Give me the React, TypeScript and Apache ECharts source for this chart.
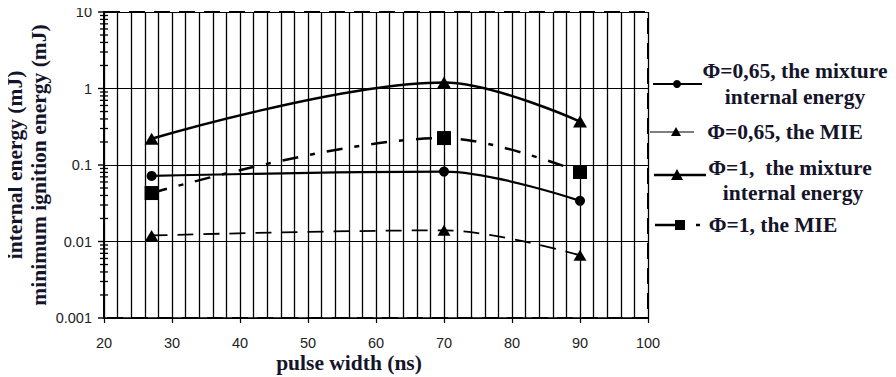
import React, { useEffect, useRef } from "react";
import * as echarts from "echarts";

const pulseWidths = [27, 70, 90];
const mixture065 = [0.072, 0.082, 0.034];
const mie065 = [0.012, 0.014, 0.0066];
const mixture1 = [0.22, 1.2, 0.37];
const mie1 = [0.043, 0.225, 0.081];
const yTickValues = [0.001, 0.01, 0.1, 1, 10];
const yTickLabels = ["0.001", "0.01", "0.1", "1", "10"];
const minorMultipliers = [2, 3, 4, 5, 6, 7, 8, 9];
const decades = [0.001, 0.01, 0.1, 1];

const SERIF = "'Liberation Serif', 'Times New Roman', serif";
const SANS = "'Liberation Sans', Arial, sans-serif";
const TEXT_COLOR = "#14142a";
const FS = 21.5;
const GRID_LEFT = 104;

export default function App() {
  const ref = useRef<HTMLDivElement>(null);
  useEffect(() => {
    if (!ref.current) return;
    const chart = echarts.init(ref.current, undefined, { renderer: "svg" });
    const pts = (ys: number[]) => pulseWidths.map((x, i) => [x, ys[i]]);

    const legendText = (id: string, x: number, y: number, text: string) => ({
      id,
      type: "text",
      x,
      y,
      style: {
        text,
        fill: TEXT_COLOR,
        font: `bold ${FS}px ${SERIF}`,
        textAlign: "center",
        textVerticalAlign: "middle",
      },
    });

    const baseGraphic: any[] = [
      {
        id: "xtitle",
        type: "text",
        x: 349,
        y: 363,
        style: {
          text: "pulse width (ns)",
          fill: TEXT_COLOR,
          font: `bold ${FS}px ${SERIF}`,
          textAlign: "center",
          textVerticalAlign: "middle",
        },
      },
      {
        id: "ytitle",
        type: "text",
        x: 27,
        y: 165,
        rotation: Math.PI / 2,
        style: {
          text: "internal energy (mJ)\nminimum ignition energy (mJ)",
          fill: TEXT_COLOR,
          font: `bold ${FS}px ${SERIF}`,
          lineHeight: 24,
          textAlign: "center",
          textVerticalAlign: "middle",
        },
      },
      { id: "l1", type: "line", shape: { x1: 653, y1: 84, x2: 702, y2: 84 }, style: { stroke: "#000", lineWidth: 2.2 } },
      { id: "m1", type: "circle", shape: { cx: 677, cy: 84, r: 4 }, style: { fill: "#000" } },
      legendText("t1a", 795, 71, "Φ=0,65, the mixture"),
      legendText("t1b", 795, 97, "internal energy"),
      { id: "l2", type: "line", shape: { x1: 650, y1: 132, x2: 694, y2: 132 }, style: { stroke: "#000", lineWidth: 1.2 } },
      { id: "m2", type: "polygon", shape: { points: [[676, 127], [681, 136], [671, 136]] }, style: { fill: "#000" } },
      legendText("t2", 785, 132, "Φ=0,65, the MIE"),
      { id: "l3", type: "line", shape: { x1: 654, y1: 175, x2: 706, y2: 175 }, style: { stroke: "#000", lineWidth: 2.5 } },
      { id: "m3", type: "polygon", shape: { points: [[677, 169], [683, 180], [671, 180]] }, style: { fill: "#000" } },
      legendText("t3a", 790, 168, "Φ=1,  the mixture"),
      legendText("t3b", 793, 193, "internal energy"),
      { id: "l4", type: "line", shape: { x1: 655, y1: 225, x2: 684, y2: 225 }, style: { stroke: "#000", lineWidth: 2.5 } },
      { id: "m4", type: "rect", shape: { x: 675, y: 220, width: 10, height: 10 }, style: { fill: "#000" } },
      { id: "l4b", type: "line", shape: { x1: 696, y1: 225, x2: 700, y2: 225 }, style: { stroke: "#000", lineWidth: 2.5 } },
      legendText("t4", 773, 225, "Φ=1, the MIE"),
    ];

    chart.setOption({
      animation: false,
      backgroundColor: "#fff",
      grid: {
        left: GRID_LEFT,
        right: 248,
        top: 12,
        bottom: 59,
        containLabel: false,
        outerBoundsMode: "none",
        show: true,
        borderColor: "#000",
        borderWidth: 2,
        borderType: [16, 9],
      },
      xAxis: {
        type: "value",
        min: 20,
        max: 100,
        interval: 10,
        axisLine: { show: true, lineStyle: { color: "#000", width: 1.5 } },
        axisTick: { show: true, length: 5, lineStyle: { color: "#000", width: 1.2 } },
        axisLabel: { fontFamily: SANS, fontSize: 14.5, color: "#222", margin: 17 },
        splitLine: { show: true, lineStyle: { color: "#000", width: 1.3 } },
        minorTick: { show: false, splitNumber: 5 },
        minorSplitLine: { show: true, lineStyle: { color: "#000", width: 1.3 } },
      },
      yAxis: {
        type: "log",
        logBase: 10,
        min: 0.001,
        max: 10,
        axisLine: { show: true, lineStyle: { color: "#000", width: 2 } },
        axisTick: { show: false },
        axisLabel: {
          fontFamily: SANS,
          fontSize: 14.5,
          color: "#222",
          margin: 12,
          formatter: (v: number) => {
            const idx = yTickValues.findIndex((t) => Math.abs(Math.log10(t) - Math.log10(v)) < 1e-6);
            return idx >= 0 ? yTickLabels[idx] : "";
          },
        },
        splitLine: { show: true, lineStyle: { color: "#000", width: 1.2 } },
      },
      series: [
        {
          name: "Φ=0,65, the mixture internal energy",
          type: "line",
          data: pts(mixture065),
          smooth: 0.35,
          symbol: "circle",
          symbolSize: 10,
          itemStyle: { color: "#000" },
          lineStyle: { color: "#000", width: 2.2, type: "solid" },
          z: 10,
        },
        {
          name: "Φ=0,65, the MIE",
          type: "line",
          data: pts(mie065),
          smooth: 0.35,
          symbol: "triangle",
          symbolSize: [13, 11],
          itemStyle: { color: "#000" },
          lineStyle: { color: "#000", width: 1.8, type: [16, 10] },
          z: 10,
        },
        {
          name: "Φ=1, the mixture internal energy",
          type: "line",
          data: pts(mixture1),
          smooth: 0.35,
          symbol: "triangle",
          symbolSize: [14, 12],
          itemStyle: { color: "#000" },
          lineStyle: { color: "#000", width: 2.5, type: "solid" },
          z: 10,
        },
        {
          name: "Φ=1, the MIE",
          type: "line",
          data: pts(mie1),
          smooth: 0.35,
          symbol: "rect",
          symbolSize: 14,
          itemStyle: { color: "#000" },
          lineStyle: { color: "#000", width: 2.5, type: [16, 12, 5, 12] },
          z: 10,
        },
      ],
      graphic: baseGraphic,
    });

    // y-axis ticks (log-spaced); vertical positions from the chart's own y scale
    const tickGraphic: any[] = [];
    const toPy = (v: number) => {
      const p = chart.convertToPixel({ xAxisIndex: 0, yAxisIndex: 0 }, [20, v]) as number[];
      return p && isFinite(p[1]) ? p[1] : null;
    };
    yTickValues.forEach((v, i) => {
      const y = toPy(v);
      if (y !== null) {
        tickGraphic.push({
          id: "major" + i,
          type: "line",
          z: 50,
          shape: { x1: GRID_LEFT - 6, y1: y, x2: GRID_LEFT, y2: y },
          style: { stroke: "#000", lineWidth: 1.4 },
        });
      }
    });
    decades.forEach((d, di) =>
      minorMultipliers.forEach((m) => {
        const y = toPy(d * m);
        if (y !== null) {
          tickGraphic.push({
            id: `minor${di}_${m}`,
            type: "line",
            z: 50,
            shape: { x1: GRID_LEFT - 4, y1: y, x2: GRID_LEFT + 4, y2: y },
            style: { stroke: "#000", lineWidth: 1.3 },
          });
        }
      })
    );
    chart.setOption({ graphic: [...baseGraphic, ...tickGraphic] });

    return () => chart.dispose();
  }, []);
  return <div ref={ref} style={{ width: 896, height: 377, marginLeft: -8, marginTop: -8 }} />;
}
